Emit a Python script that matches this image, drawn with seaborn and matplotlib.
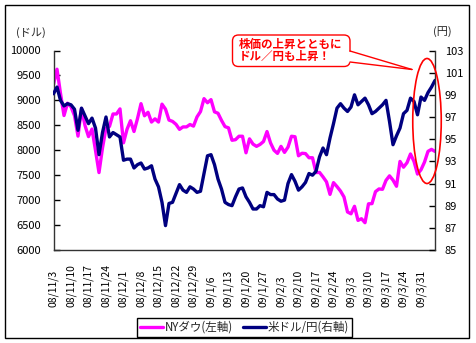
import numpy as np
import pandas as pd
import matplotlib
matplotlib.use("Agg")
import matplotlib.pyplot as plt
import seaborn as sns
from matplotlib.patches import Ellipse, FancyBboxPatch, Polygon, Rectangle
from matplotlib.lines import Line2D
from matplotlib.transforms import Affine2D

# ---------------- data ----------------
tick_labels = ['08/11/3', '08/11/10', '08/11/17', '08/11/24', '08/12/1', '08/12/8',
               '08/12/15', '08/12/22', '08/12/29', '09/1/6', '09/1/13', '09/1/20',
               '09/1/27', '09/2/3', '09/2/10', '09/2/17', '09/2/24', '09/3/3',
               '09/3/10', '09/3/17', '09/3/24', '09/3/31']

dow = [9320, 9625, 9139, 8696, 8944, 8871, 8694, 8283, 8835, 8497,
       8274, 8425, 7997, 7552, 8046, 8443, 8479, 8727, 8727, 8829,
       8149, 8419, 8592, 8376, 8635, 8934, 8691, 8761, 8565, 8630,
       8565, 8924, 8824, 8605, 8579, 8520, 8419, 8468, 8468, 8516,
       8484, 8668, 8776, 9035, 8953, 9015, 8770, 8742, 8599, 8474,
       8449, 8200, 8212, 8281, 8281, 7949, 8228, 8123, 8078, 8116,
       8175, 8375, 8149, 8001, 7937, 8078, 7957, 8063, 8281, 8271,
       7889, 7940, 7933, 7850, 7850, 7553, 7556, 7466, 7366, 7115,
       7351, 7271, 7182, 7063, 6763, 6726, 6876, 6594, 6627, 6547,
       6926, 6930, 7170, 7224, 7217, 7396, 7487, 7401, 7278, 7776,
       7660, 7750, 7925, 7776, 7522, 7609, 7762, 7978, 8018, 7976]

usdjpy = [99.1, 99.7, 98.5, 98.0, 98.2, 98.1, 97.7, 95.8, 97.8, 97.1,
          96.4, 96.9, 96.0, 93.6, 95.6, 97.0, 95.2, 95.6, 95.4, 95.2,
          93.1, 93.2, 93.2, 92.4, 92.7, 92.85, 92.3, 92.4, 92.6, 91.4,
          90.7, 89.3, 87.2, 89.2, 89.3, 90.1, 90.9, 90.4, 90.2, 90.7,
          90.5, 90.2, 90.3, 91.9, 93.5, 93.6, 92.7, 91.4, 90.5, 89.3,
          89.1, 89.0, 89.8, 90.5, 90.6, 89.8, 89.3, 88.7, 88.7, 89.0,
          88.9, 90.2, 90.0, 90.0, 89.6, 89.4, 89.5, 91.0, 91.8, 91.2,
          90.4, 90.7, 91.1, 91.9, 91.75, 92.1, 93.4, 94.2, 93.6, 95.1,
          96.4, 97.8, 98.2, 97.8, 97.5, 97.9, 99.0, 98.1, 98.4, 98.7,
          98.1, 97.3, 97.5, 97.8, 98.1, 98.5, 96.6, 94.5, 95.3, 96.0,
          97.3, 97.6, 98.7, 98.4, 97.2, 98.8, 98.5, 99.2, 99.7, 100.3]

series_names = ['NYダウ(左軸)', '米ドル/円(右軸)']
left_unit = '(ドル)'
right_unit = '(円)'
callout_lines = ['株価の上昇とともに', 'ドル／円も上昇！']

# ---------------- style ----------------
sns.set_theme(style="white")
plt.rcParams['font.family'] = ['Noto Sans CJK JP', 'DejaVu Sans']
plt.rcParams['axes.unicode_minus'] = False

W, H = 476, 343
fig = plt.figure(figsize=(W / 100, H / 100), dpi=100)
fig.patch.set_facecolor('white')
pix = Affine2D().scale(1 / W, -1 / H).translate(0, 1) + fig.transFigure


def fx(p):
    return p / W


def fy(p):
    return 1 - p / H


x0, x1, ytop, ybot = 53.5, 435.0, 50.5, 250.0
ax = fig.add_axes([fx(x0), fy(ybot), fx(x1) - fx(x0), fy(ytop) - fy(ybot)])
ax.set_facecolor('white')

df = pd.DataFrame({'idx': np.arange(len(dow)), 'dow': dow, 'usdjpy': usdjpy})

MAG = '#FF00FF'
NAVY = '#000080'
sns.lineplot(data=df, x='idx', y='dow', ax=ax, color=MAG, lw=2.4, legend=False)
ax2 = ax.twinx()
sns.lineplot(data=df, x='idx', y='usdjpy', ax=ax2, color=NAVY, lw=2.4, legend=False)

ax.set_xlim(0, len(dow) - 1)
ax.set_ylim(6000, 10000)
ax.set_yticks(np.arange(6000, 10001, 500))
ax2.set_ylim(85, 103)
ax2.set_yticks(np.arange(85, 104, 2))

ax.set_xticks(np.arange(0, 5 * len(tick_labels), 5))
ax.set_xticklabels(tick_labels)
for lbl in ax.get_xticklabels():
    lbl.set_rotation(90)
    lbl.set_va('bottom')
    lbl.set_ha('center')

for a in (ax, ax2):
    a.set_xlabel('')
    a.set_ylabel('')
    a.grid(False)
    for s in a.spines.values():
        s.set_visible(False)

ax.spines['left'].set_visible(True)
ax.spines['bottom'].set_visible(True)
ax2.spines['right'].set_visible(True)
for s in (ax.spines['left'], ax.spines['bottom'], ax2.spines['right']):
    s.set_color('#333333')
    s.set_linewidth(1.0)

ax.tick_params(axis='x', length=0, pad=41, labelsize=7.5, colors='black')
ax.tick_params(axis='y', direction='in', length=4, width=1, pad=9,
               labelsize=8, colors='black', left=True)
ax2.tick_params(axis='y', direction='in', length=4, width=1, pad=7,
                labelsize=8, colors='black', right=True)
for t in ax.yaxis.get_ticklines() + ax2.yaxis.get_ticklines():
    t.set_color('#333333')

# unit labels
fig.text(fx(31), fy(33), left_unit, ha='center', va='center', fontsize=8)
fig.text(fx(442), fy(32), right_unit, ha='center', va='center', fontsize=8)

# legend
handles = [Line2D([], [], color=MAG, lw=2.4), Line2D([], [], color=NAVY, lw=2.4)]
leg = fig.legend(handles, series_names, loc='center',
                 bbox_to_anchor=(fx(244.5), fy(327.5)), ncol=2, fontsize=8.3,
                 frameon=True, fancybox=False, edgecolor='black', framealpha=1,
                 handlelength=2.0, handletextpad=0.15, columnspacing=0.9,
                 borderpad=0.25, borderaxespad=0)
leg.get_frame().set_linewidth(1.0)

# ellipse highlight
ell = Ellipse((427, 121), 28.5, 125, transform=pix, fill=False, ec='red', lw=1.2,
              zorder=10)
fig.add_artist(ell)

# callout
box = FancyBboxPatch((232.5, 35), 117.5, 31.5, boxstyle='round,pad=0,rounding_size=6',
                     transform=pix, fc='white', ec='red', lw=1.0, zorder=11)
fig.add_artist(box)
tail_fill = Polygon([(347, 51), (412, 69.5), (347, 62)], closed=True, transform=pix,
                    fc='white', ec='none', zorder=12)
fig.add_artist(tail_fill)
fig.add_artist(Line2D([350, 412], [51, 69.5], transform=pix, color='red', lw=1.0, zorder=13))
fig.add_artist(Line2D([350, 412], [62, 69.5], transform=pix, color='red', lw=1.0, zorder=13))
fig.text(fx(239), fy(44), callout_lines[0], ha='left', va='center', fontsize=8.3,
         fontweight='bold', color='red', zorder=14)
fig.text(fx(239), fy(56), callout_lines[1], ha='left', va='center', fontsize=8.3,
         fontweight='bold', color='red', zorder=14)

# outer border
fig.add_artist(Rectangle((4.5, 4.5), 464.5, 333.5, transform=pix, fill=False,
                         ec='black', lw=1.0, zorder=20))

fig.savefig('out.png', dpi=100, facecolor='white')
